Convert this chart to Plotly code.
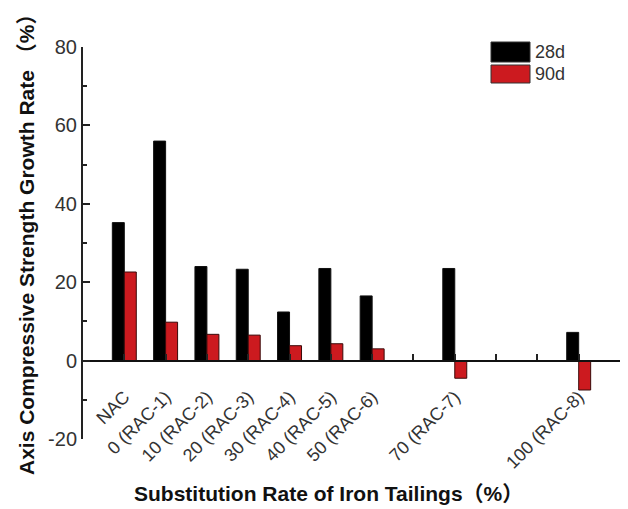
import plotly.graph_objects as go

# Mix labels and their slot positions on a linear axis (NAC first, then 0..100 % in 10 % steps)
categories = ["NAC", "0 (RAC-1)", "10 (RAC-2)", "20 (RAC-3)", "30 (RAC-4)",
              "40 (RAC-5)", "50 (RAC-6)", "70 (RAC-7)", "100 (RAC-8)"]
slots = [0, 1, 2, 3, 4, 5, 6, 8, 11]

# Axial compressive strength growth rate (%)
growth_28d = [35.2, 56.0, 24.0, 23.3, 12.4, 23.5, 16.5, 23.5, 7.2]
growth_90d = [22.6, 9.8, 6.7, 6.5, 3.8, 4.3, 3.0, -4.5, -7.5]

y_ticks = [-20, 0, 20, 40, 60, 80]
y_tick_text = ["-20", "0", "20", "40", "60", "80"]

FONT = "'Liberation Sans', Arial, 'Noto Sans CJK SC', sans-serif"
BLACK = "#000000"
RED = "#cc1a1f"

fig = go.Figure()
fig.add_trace(go.Bar(x=slots, y=growth_28d, name="28d", marker=dict(color=BLACK, line=dict(color="#111", width=1)),
                     showlegend=False))
fig.add_trace(go.Bar(x=slots, y=growth_90d, name="90d", marker=dict(color=RED, line=dict(color="#3a0a0a", width=1)),
                     showlegend=False))

fig.update_layout(
    width=628, height=509,
    margin=dict(l=83, r=8, t=47, b=70),
    paper_bgcolor="white", plot_bgcolor="white",
    barmode="group", bargap=0.42, bargroupgap=0,
    font=dict(family=FONT, size=18, color="#333"),
)

fig.update_yaxes(
    range=[-20, 80], tickvals=y_ticks, ticktext=y_tick_text, showgrid=False, zeroline=False,
    showline=True, linecolor="#222", linewidth=2,
    ticks="inside", ticklen=7, tickwidth=1.5, tickcolor="#222",
    minor=dict(dtick=10, tick0=0, ticks="inside", ticklen=4, tickwidth=1.5, tickcolor="#222"),
    tickfont=dict(size=20, color="#333"),
)

fig.update_xaxes(
    range=[-1, 12], anchor="free", position=0.2,
    tickvals=slots, ticktext=categories, tickangle=-45,
    showgrid=False, zeroline=False,
    showline=True, linecolor="#111", linewidth=1.5,
    ticks="inside", ticklen=6, tickwidth=1.5, tickcolor="#222",
    minor=dict(dtick=1, tick0=0, ticks="inside", ticklen=6, tickwidth=1.5, tickcolor="#222"),
    ticklabelstandoff=18,
    tickfont=dict(size=18, color="#333"),
)

# Axis titles
fig.add_annotation(text="<b>Substitution Rate of Iron Tailings（%）</b>", xref="paper", yref="paper",
                   x=(328 - 83) / 537, y=(439 - 493) / 392, showarrow=False,
                   font=dict(size=21, color="#111"), xanchor="center", yanchor="middle")
fig.add_annotation(text="<b>Axis Compressive Strength Growth Rate （%）</b>", xref="paper", yref="paper",
                   x=(26 - 83) / 537, y=(439 - 240) / 392, showarrow=False, textangle=-90,
                   font=dict(size=21, color="#111"), xanchor="center", yanchor="middle")

# Legend drawn as swatches with labels
def px_x(p):
    return (p - 83) / 537

def px_y(p):
    return (439 - p) / 392

legend_items = [("28d", BLACK, 42, 62), ("90d", RED, 65, 83)]
for label, color, top, bottom in legend_items:
    fig.add_shape(type="rect", xref="paper", yref="paper",
                  x0=px_x(491), x1=px_x(530), y0=px_y(bottom), y1=px_y(top),
                  fillcolor=color, line=dict(color="#333", width=1))
    fig.add_annotation(text=label, xref="paper", yref="paper", x=px_x(533), y=px_y((top + bottom) / 2),
                       showarrow=False, xanchor="left", yanchor="middle",
                       font=dict(size=18, color="#333"))

fig.write_html("out.html")
